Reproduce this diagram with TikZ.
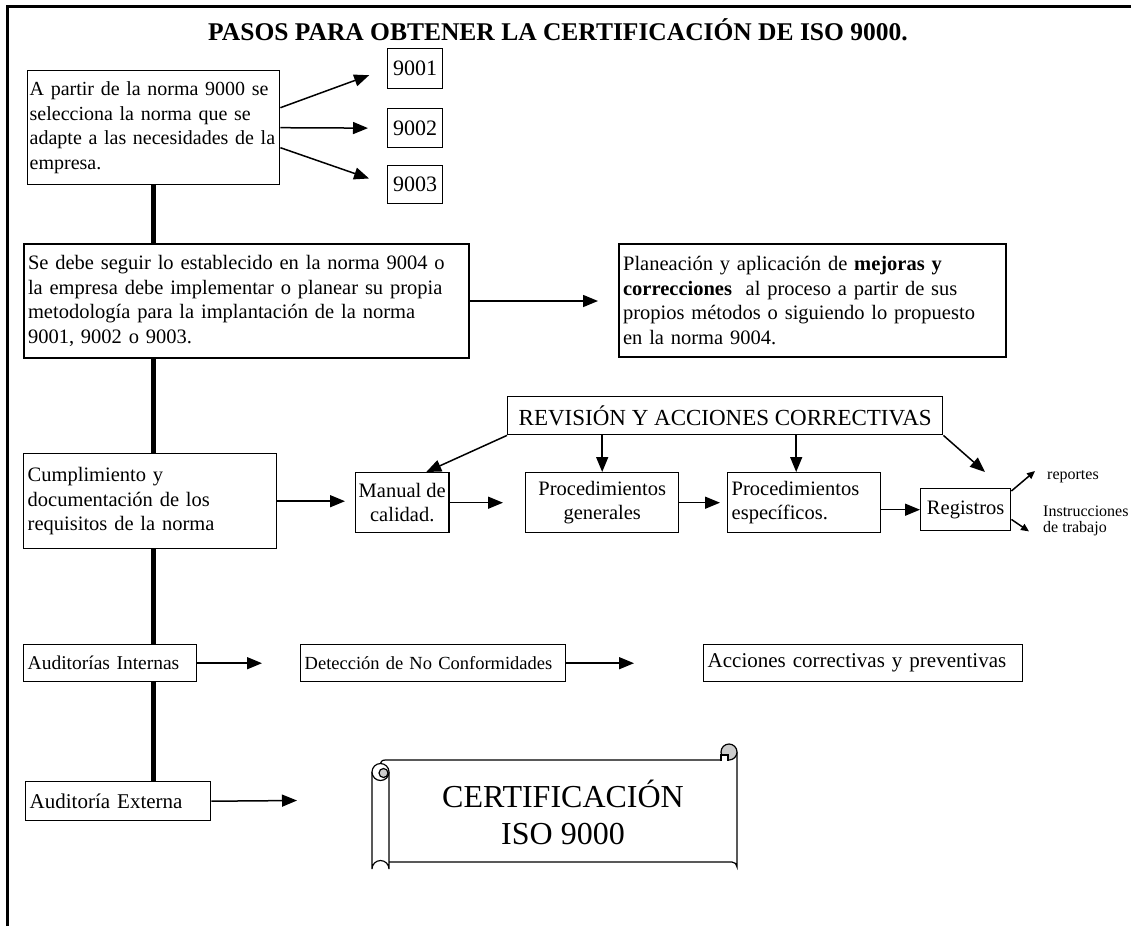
\documentclass[tikz,border=0pt]{standalone}
\usepackage{fontspec}
\setmainfont{Liberation Serif}
\usetikzlibrary{arrows.meta,calc}
\newcommand\myfs[2]{\fontsize{#1}{#2}\selectfont}
\begin{document}
\hyphenpenalty=10000 \exhyphenpenalty=10000
\begin{tikzpicture}[x=1pt,y=-1pt,
  bx/.style={draw, line width=1.4pt, anchor=north west, inner xsep=4pt, inner ysep=2pt, align=left, font=\myfs{20.5}{24.5}},
  cbx/.style={draw, line width=1.4pt, anchor=north west, inner xsep=3pt, inner ysep=2pt, align=center, font=\myfs{20.5}{24.5}},
  arr/.style={line width=1.5pt, -{Triangle[length=15pt,width=12pt]}},
  sarr/.style={line width=1.5pt, -{Triangle[length=8pt,width=7pt]}},
  spine/.style={line width=5pt},
  sc/.style={line width=1.2pt},
  lbl/.style={font=\myfs{16}{16}, inner sep=0pt, align=left}
]
\useasboundingbox (0,0) rectangle (1131,926);
% frame
\draw[line width=3pt] (7,926) -- (7,6) -- (1131,6);
% title
\node[font=\myfs{25.5}{28}\bfseries] (title) at (558,30) {PASOS PARA OBTENER LA CERTIFICACIÓN DE ISO 9000.};

% boxes
\node[bx, font=\myfs{20}{24.5}, inner xsep=2pt, text width=248pt, minimum height=114pt] (b1) at (27,70)
  {A partir de la norma 9000 se\\selecciona la norma que se\\adapte a las necesidades de la\\empresa.};
\node[cbx, font=\myfs{22}{24}, minimum width=55pt, minimum height=40pt] (n1) at (387,48) {9001};
\node[cbx, font=\myfs{22}{24}, minimum width=55pt, minimum height=39pt] (n2) at (387,108) {9002};
\node[cbx, font=\myfs{22}{24}, minimum width=55pt, minimum height=38pt] (n3) at (387,165) {9003};

\node[bx, line width=2pt, text width=437pt, minimum height=114pt] (b2) at (23,243)
  {Se debe seguir lo establecido en la norma 9004 o\\la empresa debe implementar o planear su propia\\metodología para la implantación de la norma\\9001, 9002 o 9003.};
\node[bx, line width=2.2pt, text width=379pt, minimum height=113pt] (b3) at (618,243)
  {Planeación y aplicación de \textbf{mejoras y}\\\textbf{correcciones}\ \ al proceso a partir de sus\\propios métodos o siguiendo lo propuesto\\en la norma 9004.};

\node[cbx, font=\myfs{23}{25}, minimum width=435pt, minimum height=38pt] (rev) at (507,396) {REVISIÓN Y ACCIONES CORRECTIVAS};
\node[bx, text width=245pt, minimum height=95pt] (cum) at (23,453)
  {Cumplimiento y\\documentación de los\\requisitos de la norma};
\node[cbx, minimum width=90pt, minimum height=60pt] (man) at (355,472) {Manual de\\calidad.};
\node[cbx, minimum width=153pt, minimum height=60pt] (pg) at (525,472) {Procedimientos\\generales};
\node[bx, text width=145pt, minimum height=60pt] (pe) at (727,472) {Procedimientos\\específicos.};
\node[cbx, minimum width=90pt, minimum height=42pt] (reg) at (920,488) {Registros};
\node[lbl, anchor=west] (rep) at (1047,477) {reportes};
\node[lbl, anchor=north west] (ins) at (1043,506) {Instrucciones\\de trabajo};

\node[bx, font=\myfs{19.5}{24}, text width=165pt, minimum height=37pt] (ai) at (23,644) {Auditorías Internas};
\node[bx, font=\myfs{18.5}{24}, text width=257pt, minimum height=37pt] (det) at (300,644) {Detección de No Conformidades};
\node[bx, font=\myfs{21}{24}, text width=311pt, minimum height=37pt] (acc) at (703,644) {Acciones correctivas y preventivas};
\node[bx, font=\myfs{21}{24}, text width=177pt, minimum height=39pt] (ae) at (25,781) {Auditoría Externa};

% scroll
\draw[sc, fill=white] (372,772) -- (372,869) arc[start angle=180, end angle=360, radius=8.5] -- (389,772);
\draw[sc, fill=white] (380.5,772) circle (8.5);
\draw[sc, fill=gray!40] (383.5,773) circle (4.5);
\draw[sc] (380.5,763.5) .. controls (382,760) .. (389,760) -- (721,760);
\draw[sc] (389,862) -- (732,862) arc[start angle=270, end angle=360, radius=5] -- (737,752);
\draw[sc, fill=gray!40] (729,752) circle (8);
\draw[sc, fill=white] (721,761) -- (721,755) -- (728,755) -- (728,761);
\node[font=\myfs{32}{37}, align=center] (cert) at (563,812) {CERTIFICACIÓN\\ISO 9000};

% spine
\draw[spine] (b1.south) -- (b1.south |- b2.north);
\draw[spine] (b1.south |- b2.south) -- (b1.south |- cum.north);
\draw[spine] (b1.south |- cum.south) -- (b1.south |- ai.north);
\draw[spine] (b1.south |- ai.south) -- (b1.south |- ae.north);

% arrows
\draw[arr, shorten >=19pt] ($(b1.east)+(0,-20)$) -- (n1.west);
\draw[arr, shorten >=19pt] (b1.east) -- (n2.west);
\draw[arr, shorten >=19pt] ($(b1.east)+(0,20)$) -- (n3.west);
\draw[arr, shorten >=20pt] (b2.east) -- (b3.west |- b2.east);
\draw[arr, shorten >=10pt] (cum.east) -- (man.west |- cum.east);
\draw[arr, shorten >=22pt] (man.east) -- (pg.west);
\draw[arr, shorten >=7pt] (pg.east) -- (pe.west);
\draw[arr] (pe.east |- reg.west) -- (reg.west);
\draw[arr] (rev.south west) -- ($(man.north)+(24,0)$);
\draw[arr] (rev.south -| pg.north) -- (pg.north);
\draw[arr] ($(rev.south -| pe.north)+(-8,0)$) -- ($(pe.north)+(-8,0)$);
\coordinate (regtip) at (985,472);
\draw[arr] (rev.south east) -- (regtip);
\draw[sarr] ($(reg.north east)+(0,3)$) -- ($(rep.west)+(-12,-6)$);
\draw[sarr] ($(reg.south east)+(0,-12)$) -- ($(ins.south west)+(-14,-5)$);
\draw[arr, shorten >=38pt] (ai.east) -- (det.west);
\draw[arr, shorten >=69pt] (det.east) -- (acc.west);
\coordinate (aetip) at (297,800.5);
\draw[arr] (ae.east) -- (aetip);
\end{tikzpicture}
\end{document}
